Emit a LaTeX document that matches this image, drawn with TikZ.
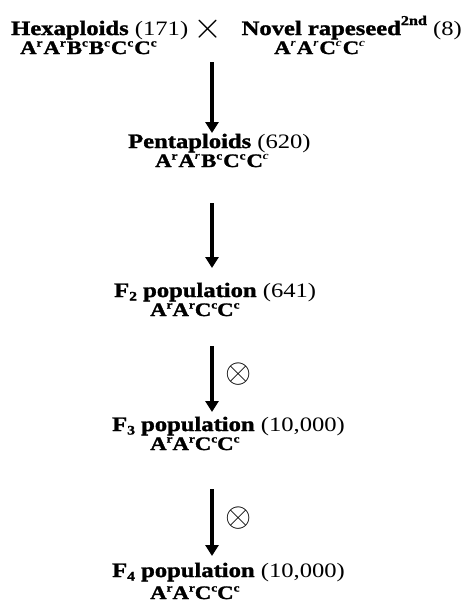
\documentclass[tikz,border=0pt]{standalone}
\usepackage{fontspec}
\setmainfont[FakeStretch=1.2,BoldFeatures={FakeBold=1.5}]{Liberation Serif}
\usetikzlibrary{arrows.meta}
\newcommand{\spt}[1]{\raisebox{7.5pt}{\fontsize{11}{11}\selectfont #1}}
\newcommand{\sbt}[1]{\raisebox{-3.5pt}{\fontsize{13}{13}\selectfont #1}}
\begin{document}
\begin{tikzpicture}[x=1pt,y=-1pt,
  txt/.style={inner sep=0pt,font=\fontsize{20.5}{22}\selectfont},
  gen/.style={inner sep=0pt,font=\fontsize{19}{21}\selectfont\bfseries},
  arr/.style={line width=3.5pt,-{Triangle[width=13pt,length=11pt]}},
  sym/.style={inner sep=0pt}]
\useasboundingbox[fill=white] (0,0) rectangle (468,608);
% top line
\node[txt,anchor=base west] (hexa) at (11,35) {\textbf{Hexaploids} (171)};
\node[sym] (cross) at (208,29) {\fontsize{24}{24}\selectfont\scalebox{1.5}{$\times$}};
\node[txt,anchor=base east] (novel) at (462,35) {\textbf{Novel rapeseed\raisebox{10pt}{\fontsize{13.5}{14}\selectfont 2nd}} (8)};
\node[gen,anchor=base west] (g0) at (20,54) {A\spt{r}\kern1pt A\spt{r}\kern1pt B\spt{c}\kern1pt B\spt{c}\kern1pt C\spt{c}\kern1pt C\spt{c}};
\node[gen,anchor=base west] (g0r) at (274,54) {A\spt{\itshape r}\kern1pt A\spt{\itshape r}\kern1pt C\spt{\itshape c}\kern1pt C\spt{\itshape c}};
% pentaploids
\node[txt,anchor=base west] (penta) at (128,148) {\textbf{Pentaploids} (620)};
\node[gen,anchor=base west] (g1) at (155,167) {A\spt{r}\kern1pt A\spt{\itshape r}\kern1pt B\spt{c}\kern1pt C\spt{c}\kern1pt C\spt{\itshape c}};
% F2
\node[txt,anchor=base west] (f2) at (114,297) {\textbf{F\sbt{2} population} (641)};
\node[gen,anchor=base west] (g2) at (150,316) {A\spt{r}A\spt{r}C\spt{c}C\spt{c}};
% F3
\node[txt,anchor=base west] (f3) at (112,431) {\textbf{F\sbt{3} population} (10,000)};
\node[gen,anchor=base west] (g3) at (150,450) {A\spt{r}A\spt{r}C\spt{c}C\spt{c}};
% F4
\node[txt,anchor=base west] (f4) at (112,577) {\textbf{F\sbt{4} population} (10,000)};
\node[gen,anchor=base west] (g4) at (150,599) {A\spt{r}A\spt{r}C\spt{c}C\spt{c}};
% arrows
\coordinate (a1s) at (212,62);  \coordinate (a1e) at (212,133);
\coordinate (a2s) at (212,203); \coordinate (a2e) at (212,268);
\coordinate (a3s) at (212,346); \coordinate (a3e) at (212,412);
\coordinate (a4s) at (212,489); \coordinate (a4e) at (212,556);
\draw[arr] (a1s) -- (a1e);
\draw[arr] (a2s) -- (a2e);
\draw[arr] (a3s) -- (a3e);
\draw[arr] (a4s) -- (a4e);
\node[sym] (ot1) at (239,374) {\fontsize{24}{24}\selectfont\scalebox{1.35}{$\otimes$}};
\node[sym] (ot2) at (239,518) {\fontsize{24}{24}\selectfont\scalebox{1.35}{$\otimes$}};
\end{tikzpicture}
\end{document}
